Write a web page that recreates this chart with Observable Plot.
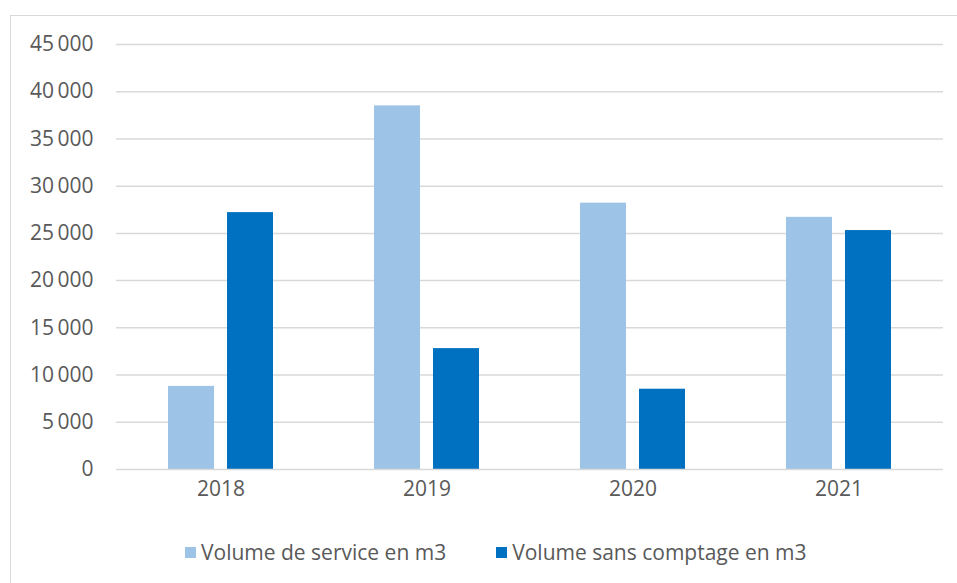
<!DOCTYPE html>
<html>
<head>
<meta charset="utf-8">
<script src="https://cdn.jsdelivr.net/npm/d3@7"></script>
<script src="https://cdn.jsdelivr.net/npm/@observablehq/plot@0.6"></script>
<style>
  html, body { margin: 0; padding: 0; background: #fff; }
  body { width: 957px; height: 583px; position: relative; overflow: hidden; font-family: "Open Sans", sans-serif; }
  #frame { position: absolute; left: 10px; top: 15px; width: 980px; height: 620px; border: 1.5px solid #d9d9d9; box-sizing: border-box; }
  #chart { position: absolute; left: 0; top: 0; }
  #legend { position: absolute; left: 0; top: 540px; height: 24px; display: flex; align-items: center; padding-left: 185px; font-size: 21px; color: #595959; }
  .item { display: flex; align-items: center; }
  .sw { width: 11px; height: 11px; margin-right: 5px; }
</style>
</head>
<body>
<div id="frame"></div>
<div id="chart"></div>
<div id="legend"></div>
<script>
const years = ["2018", "2019", "2020", "2021"];
const serviceVolume = [8800, 38500, 28200, 26700];
const noMeterVolume = [27200, 12800, 8500, 25300];
const yTicks = [0, 5000, 10000, 15000, 20000, 25000, 30000, 35000, 40000, 45000];
const seriesNames = ["Volume de service en m3", "Volume sans comptage en m3"];
const seriesColors = ["#9DC3E6", "#0070C0"];

const data = years.map((y, i) => ({year: y, service: serviceVolume[i], nometer: noMeterVolume[i]}));
const fmt = d => d3.format(",")(d).replace(/,/g, "\u2009");

const chart = Plot.plot({
  width: 957,
  height: 510,
  marginLeft: 116,
  marginRight: 14,
  marginTop: 44,
  marginBottom: 41,
  style: {fontFamily: "'Open Sans', sans-serif", fontSize: "21px", color: "#595959", background: "transparent"},
  x: {domain: years, paddingInner: 0.4915, paddingOuter: 0.2458, label: null, tickSize: 0, tickPadding: 12},
  y: {domain: [0, 45000], ticks: yTicks, label: null, tickSize: 0, tickPadding: 23, tickFormat: fmt},
  marks: [
    Plot.ruleY(yTicks.filter(d => d !== 0), {stroke: "#d9d9d9", strokeWidth: 1.5, strokeOpacity: 1}),
    Plot.barY(data, {x: "year", y: "service", fill: seriesColors[0], insetRight: 59}),
    Plot.barY(data, {x: "year", y: "nometer", fill: seriesColors[1], insetLeft: 59}),
    Plot.ruleY([0], {stroke: "#d9d9d9", strokeWidth: 1.5, strokeOpacity: 1})
  ]
});
document.getElementById("chart").appendChild(chart);

const legend = document.getElementById("legend");
seriesNames.forEach((name, i) => {
  const item = document.createElement("div");
  item.className = "item";
  if (i > 0) item.style.marginLeft = "50px";
  const sw = document.createElement("div");
  sw.className = "sw";
  sw.style.background = seriesColors[i];
  const t = document.createElement("span");
  t.textContent = name;
  item.appendChild(sw);
  item.appendChild(t);
  legend.appendChild(item);
});
</script>
</body>
</html>
